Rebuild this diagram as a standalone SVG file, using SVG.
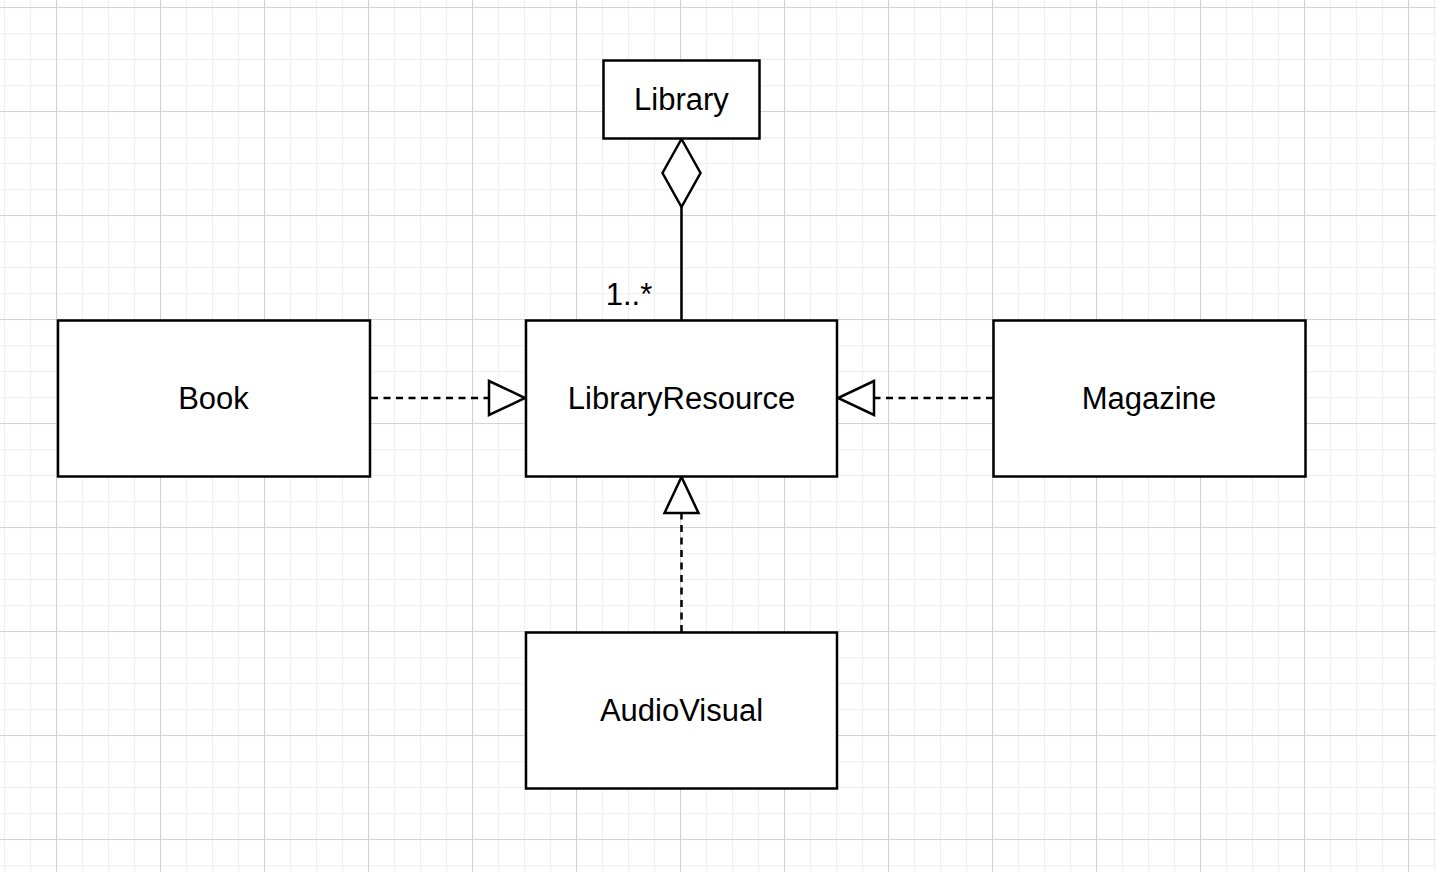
<svg xmlns="http://www.w3.org/2000/svg" width="1436" height="872" viewBox="0 0 1436 872">
<style>
.box{fill:#ffffff;stroke:#000000;stroke-width:2.5}
.lbl{font-family:"Liberation Sans",Arial,Helvetica,sans-serif;font-size:31px;fill:#000000;text-anchor:middle}
.edge{fill:none;stroke:#000000;stroke-width:2.5}
.dash{stroke-dasharray:7 5.5}
.head{fill:#ffffff;stroke:#000000;stroke-width:2.5;stroke-linejoin:miter}
</style>
<defs>
<pattern id="minor" x="4" y="7" width="26" height="26" patternUnits="userSpaceOnUse">
<path d="M0.5 0 V26 M0 0.5 H26" fill="none" stroke="#f0f0f0" stroke-width="1.4"/>
</pattern>
<pattern id="major" x="56" y="7" width="104" height="104" patternUnits="userSpaceOnUse">
<path d="M0.5 0 V104 M0 0.5 H104" fill="none" stroke="#d3d3d3" stroke-width="1"/>
</pattern>
</defs>
<rect x="0" y="0" width="1436" height="872" fill="#ffffff"/>
<rect x="0" y="0" width="1436" height="872" fill="url(#minor)"/>
<rect x="0" y="0" width="1436" height="872" fill="url(#major)"/>

<g id="connectors">
<g id="agg-library-resource">
<line class="edge" x1="681.5" y1="207" x2="681.5" y2="320"/>
<polygon class="head" points="681.5,139 700.5,173 681.5,207 662.5,173"/>
<text class="lbl" x="629" y="305">1..*</text>
</g>
<g id="book-realizes">
<line class="edge dash" x1="371" y1="398" x2="489" y2="398"/>
<polygon class="head" points="489,381 525,398 489,415"/>
</g>
<g id="magazine-realizes">
<line class="edge dash" x1="993" y1="398" x2="874" y2="398"/>
<polygon class="head" points="874,381 838,398 874,415"/>
</g>
<g id="audiovisual-realizes">
<line class="edge dash" x1="681.5" y1="632" x2="681.5" y2="513"/>
<polygon class="head" points="664.5,513 681.5,477 698.5,513"/>
</g>
</g>

<g id="library">
<rect class="box" x="603.5" y="60.5" width="156" height="78"/>
<text class="lbl" x="681.5" y="110">Library</text>
</g>
<g id="libraryresource">
<rect class="box" x="526" y="320.5" width="311" height="156"/>
<text class="lbl" x="681.5" y="409">LibraryResource</text>
</g>
<g id="book">
<rect class="box" x="58" y="320.5" width="312" height="156"/>
<text class="lbl" x="213.5" y="409">Book</text>
</g>
<g id="magazine">
<rect class="box" x="993.5" y="320.5" width="312" height="156"/>
<text class="lbl" x="1149" y="409">Magazine</text>
</g>
<g id="audiovisual">
<rect class="box" x="526" y="632.5" width="311" height="156"/>
<text class="lbl" x="681.5" y="721">AudioVisual</text>
</g>
</svg>
